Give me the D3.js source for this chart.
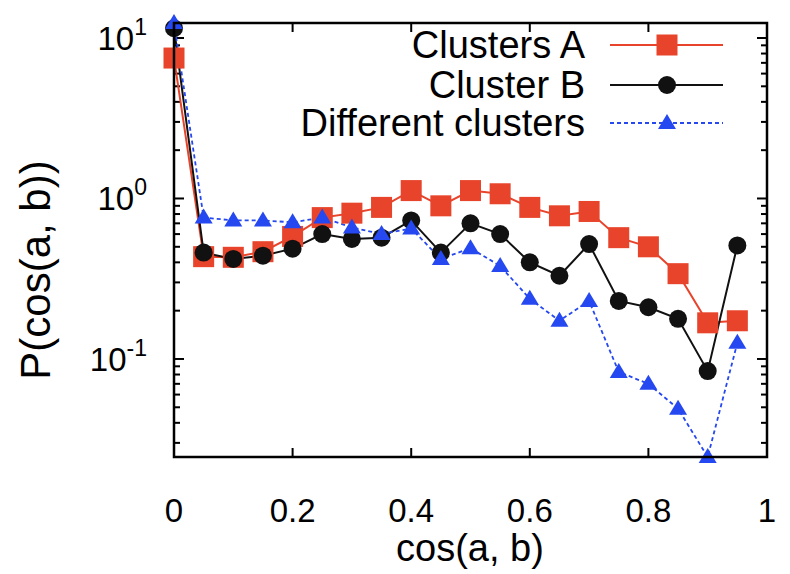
<!DOCTYPE html>
<html><head><meta charset="utf-8">
<script src="https://cdn.jsdelivr.net/npm/d3@7"></script>
<style>body{margin:0;background:#fff}svg{display:block}text{font-family:"Liberation Sans",Arial,sans-serif;fill:#000}</style>
</head><body>
<svg id="c" width="790" height="574"></svg>
<script>
const xValues = [0,0.05,0.1,0.15,0.2,0.25,0.3,0.35,0.4,0.45,0.5,0.55,0.6,0.65,0.7,0.75,0.8,0.85,0.9,0.95];
const clustersA = [7.5,0.434,0.43,0.466,0.58,0.76,0.81,0.88,1.12,0.9,1.12,1.07,0.88,0.78,0.83,0.57,0.5,0.34,0.168,0.173];
const clusterB = [11.5,0.46,0.42,0.44,0.487,0.60,0.56,0.57,0.73,0.46,0.70,0.60,0.40,0.33,0.52,0.23,0.21,0.178,0.084,0.51];
const different = [12.4,0.76,0.73,0.73,0.71,0.76,0.66,0.60,0.65,0.42,0.49,0.38,0.237,0.173,0.23,0.083,0.07,0.049,0.0245,0.126];
const seriesNames = ["Clusters A","Cluster B","Different clusters"];
const xTicks = [0,0.2,0.4,0.6,0.8,1];
const xTickLabels = ["0","0.2","0.4","0.6","0.8","1"];
const yMajorExps = [-1,0,1];
const yDomain = [0.0245,12.4];

const svg = d3.select("#c");
const L=174,R=767,T=23,B=457;
const x = d3.scaleLinear().domain([0,1]).range([L,R]);
const y = d3.scaleLog().domain(yDomain).range([B,T]);

// ticks
const tg = svg.append("g").attr("stroke","#000").attr("stroke-width",2);
xTicks.slice(1,-1).forEach(t=>{
  tg.append("line").attr("x1",x(t)).attr("x2",x(t)).attr("y1",B).attr("y2",B-9);
  tg.append("line").attr("x1",x(t)).attr("x2",x(t)).attr("y1",T).attr("y2",T+9);
});
const minor=[];
for(let e=-2;e<=1;e++){for(let m=1;m<10;m++){const v=m*Math.pow(10,e);if(v>=yDomain[0]&&v<=yDomain[1])minor.push({v,major:m===1});}}
minor.forEach(d=>{
  const len=d.major?10:6;
  tg.append("line").attr("x1",L).attr("x2",L+len).attr("y1",y(d.v)).attr("y2",y(d.v));
  tg.append("line").attr("x1",R).attr("x2",R-len).attr("y1",y(d.v)).attr("y2",y(d.v));
});

// labels
xTicks.forEach((t,i)=>{
  svg.append("text").attr("x",x(t)).attr("y",522).attr("text-anchor","middle").attr("font-size",33).text(xTickLabels[i]);
});
yMajorExps.forEach(e=>{
  const tx=svg.append("text").attr("x",147).attr("y",y(Math.pow(10,e))+12).attr("text-anchor","end").attr("font-size",33);
  tx.append("tspan").text("10");
  tx.append("tspan").attr("font-size",23).attr("dy",-15).text(String(e));
});
svg.append("text").attr("x",470).attr("y",561).attr("text-anchor","middle").attr("font-size",38).text("cos(a, b)");
svg.append("text").attr("transform","translate(50,270) rotate(-90)").attr("text-anchor","middle").attr("font-size",42).text("P(cos(a, b))");

// series
const line = d3.line().x((d,i)=>x(xValues[i])).y(d=>y(d));
const styles=[
  {data:clustersA,color:"#e8442b",width:2,dash:null,marker:"square"},
  {data:clusterB,color:"#111",width:2,dash:null,marker:"circle"},
  {data:different,color:"#2548f0",width:1.8,dash:"4,3",marker:"triangle"}
];
function marker(g,type,cx,cy,color){
  if(type==="square") g.append("rect").attr("x",cx-10.5).attr("y",cy-10.5).attr("width",21).attr("height",21).attr("fill",color);
  else if(type==="circle") g.append("circle").attr("cx",cx).attr("cy",cy).attr("r",9).attr("fill",color);
  else g.append("path").attr("d",`M${cx},${cy-9}L${cx+9},${cy+6}L${cx-9},${cy+6}Z`).attr("fill",color);
}
const pg = svg.append("g");
styles.forEach(s=>{
  pg.append("path").attr("d",line(s.data)).attr("fill","none").attr("stroke",s.color).attr("stroke-width",s.width).attr("stroke-dasharray",s.dash);
});
styles.forEach(s=>{
  s.data.forEach((v,i)=>marker(pg,s.marker,x(xValues[i]),y(v),s.color));
});

// frame
svg.append("rect").attr("x",L).attr("y",T).attr("width",R-L).attr("height",B-T).attr("fill","none").attr("stroke","#000").attr("stroke-width",2.5);

// legend
const legY=[45,85,123];
styles.forEach((s,i)=>{
  svg.append("text").attr("x",585).attr("y",legY[i]+13).attr("text-anchor","end").attr("font-size",38).text(seriesNames[i]);
  svg.append("line").attr("x1",610).attr("x2",723).attr("y1",legY[i]).attr("y2",legY[i]).attr("stroke",s.color).attr("stroke-width",s.width).attr("stroke-dasharray",s.dash);
  marker(svg,s.marker,667,legY[i],s.color);
});
</script>
</body></html>
